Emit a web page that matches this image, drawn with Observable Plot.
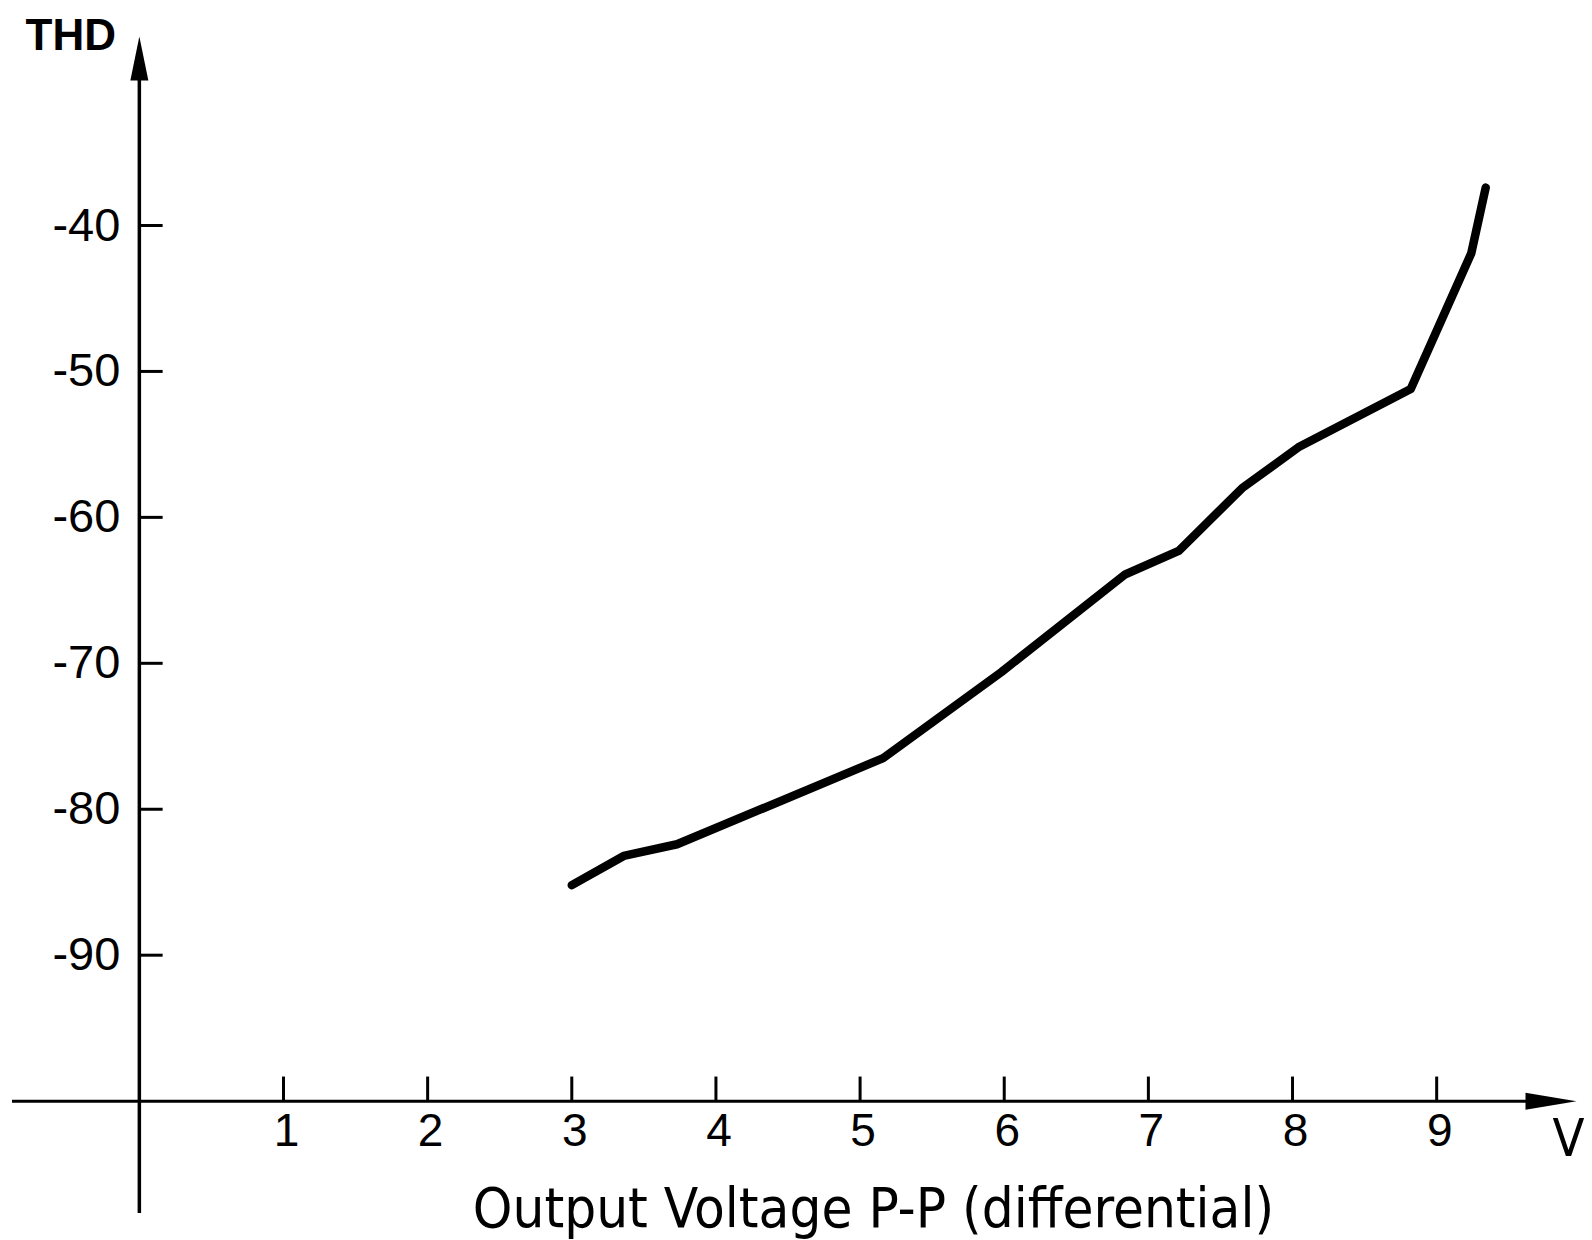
<!DOCTYPE html>
<html><head><meta charset="utf-8">
<script src="https://cdn.jsdelivr.net/npm/d3@7"></script>
<script src="https://cdn.jsdelivr.net/npm/@observablehq/plot@0.6"></script>
<style>body{margin:0;background:#fff} svg{display:block}</style>
</head><body><div id="chart"></div><script>
// ---- data ----
const xTicks = [1, 2, 3, 4, 5, 6, 7, 8, 9];
const yTicks = [-40, -50, -60, -70, -80, -90];
const voltage = [3.00, 3.36, 3.73, 5.16, 5.98, 6.84, 7.21, 7.65, 8.04, 8.82, 9.24, 9.34];
const thd     = [-85.2, -83.2, -82.4, -76.5, -70.6, -63.9, -62.3, -58.0, -55.2, -51.2, -41.9, -37.4];
const xAxisExtent = [-0.88, 9.97];
const yAxisExtent = [-107.7, -27.05];
const xAxisY = -100;
const yLabel = "THD";
const xUnit = "V";
const xTitle = "Output Voltage P-P (differential)";

const points = voltage.map((v, i) => ({v, t: thd[i]}));

const arrowUp = {draw(ctx) { ctx.moveTo(0, 0); ctx.lineTo(9, 44); ctx.lineTo(-9, 44); ctx.closePath(); }};
const arrowRight = {draw(ctx) { ctx.moveTo(0, 0); ctx.lineTo(-51, 8.5); ctx.lineTo(-51, -8.5); ctx.closePath(); }};

const font = "'Liberation Sans', Arial, sans-serif";
const narrow = "'Liberation Sans Narrow', 'DejaVu Sans Condensed', 'Liberation Sans', sans-serif";

const chart = Plot.plot({
  width: 1592,
  height: 1240,
  marginLeft: 12,
  marginRight: 16,
  marginTop: 36,
  marginBottom: 27,
  x: {domain: xAxisExtent, axis: null},
  y: {domain: yAxisExtent, axis: null},
  style: {background: "#fff", color: "#000"},
  marks: [
    // axes lines
    Plot.ruleX([0], {y1: yAxisExtent[0], y2: yAxisExtent[1] - 2, stroke: "#000", strokeWidth: 3.5}),
    Plot.ruleY([xAxisY], {x1: xAxisExtent[0], x2: xAxisExtent[1] - 0.25, stroke: "#000", strokeWidth: 3}),
    Plot.dot([yAxisExtent[1]], {x: 0, y: d => d, symbol: arrowUp, fill: "#000", stroke: "none"}),
    Plot.dot([xAxisExtent[1]], {x: d => d, y: xAxisY, symbol: arrowRight, fill: "#000", stroke: "none"}),
    // ticks
    Plot.ruleY(yTicks, {x1: 0, x2: 0.165, stroke: "#000", strokeWidth: 3}),
    Plot.ruleX(xTicks, {y1: xAxisY, y2: xAxisY + 1.65, stroke: "#000", strokeWidth: 3}),
    // tick labels
    Plot.text(yTicks, {x: 0, y: d => d, text: d => String(d), dx: -19, textAnchor: "end", lineAnchor: "middle",
      fontSize: 47, fontFamily: font, fill: "#000", ariaLabel: "ylabels"}),
    Plot.text(xTicks, {x: d => d, y: xAxisY, text: d => String(d), dx: 3, dy: 45, textAnchor: "middle", lineAnchor: "bottom",
      fontSize: 46, fontFamily: font, fill: "#000", ariaLabel: "xlabels"}),
    // axis titles
    Plot.text([yLabel], {frameAnchor: "top-left", dx: 13, dy: 13, textAnchor: "start", lineAnchor: "bottom",
      fontSize: 44, fontWeight: "bold", fontFamily: font, fill: "#000", ariaLabel: "thd"}),
    Plot.text([xUnit], {frameAnchor: "bottom-right", dx: -8, dy: -58, textAnchor: "middle", lineAnchor: "bottom",
      fontSize: 52, fontFamily: narrow, fill: "#000", ariaLabel: "unit"}),
    Plot.text([xTitle], {frameAnchor: "bottom", dx: 79, dy: 13, textAnchor: "middle", lineAnchor: "bottom",
      fontSize: 56, fontFamily: narrow, fill: "#000", ariaLabel: "xtitle"}),
    // curve
    Plot.line(points, {x: "v", y: "t", stroke: "#000", strokeWidth: 8.5, strokeLinejoin: "round", strokeLinecap: "round"})
  ]
});
document.getElementById("chart").appendChild(chart);
const s = d3.select(chart);
s.selectAll("g[aria-label=ylabels] text").style("letter-spacing", "4px");
s.selectAll("g[aria-label=thd] text").style("letter-spacing", "1px");
s.selectAll("g[aria-label=xtitle] text").style("letter-spacing", "4.5px").style("word-spacing", "8px");
</script></body></html>
